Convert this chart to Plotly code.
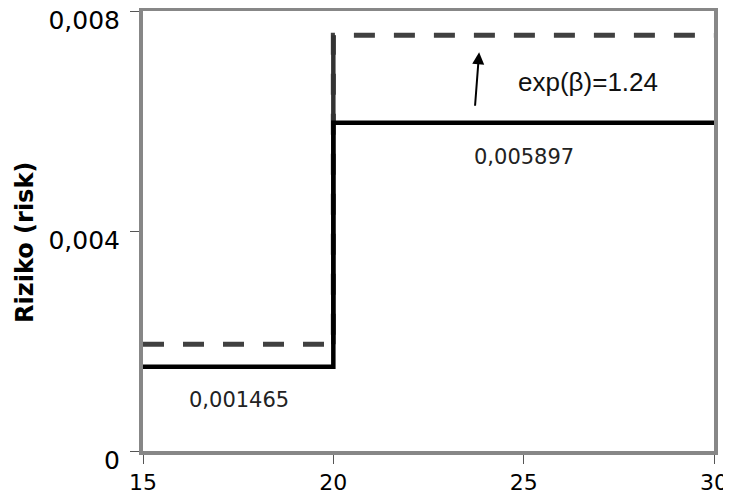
import plotly.graph_objects as go

# Data
x_steps = [15, 20, 30]
risk_base = [0.00153, 0.00597, 0.00597]       # solid step line
risk_exposed = [0.00194, 0.00756, 0.00756]    # dashed step line
label_low = "0,001465"
label_high = "0,005897"
ratio_label = "exp(β)=1.24"
x_ticks = [15, 20, 25, 30]
y_ticks = [0, 0.004, 0.008]
y_tick_text = ["0", "0,004", "0,008"]

fig = go.Figure()
fig.add_trace(go.Scatter(x=x_steps, y=risk_exposed, mode="lines", line_shape="hv",
                         line=dict(color="#404040", width=5, dash="21px,19px"),
                         showlegend=False, hoverinfo="skip"))
# the riser of the dashed step is drawn continuous in the reference
fig.add_trace(go.Scatter(x=[x_steps[1], x_steps[1]], y=[risk_exposed[0], risk_exposed[1]],
                         mode="lines", line=dict(color="#333333", width=4.5),
                         showlegend=False, hoverinfo="skip"))
fig.add_trace(go.Scatter(x=x_steps, y=risk_base, mode="lines", line_shape="hv",
                         line=dict(color="#000000", width=4.5),
                         showlegend=False, hoverinfo="skip"))

fig.add_annotation(x=17.52, y=0.000927, text=label_low, showarrow=False,
                   font=dict(family="DejaVu Sans", size=21, color="#222222"))
fig.add_annotation(x=25.02, y=0.005345, text=label_high, showarrow=False,
                   font=dict(family="DejaVu Sans", size=21, color="#222222"))
fig.add_annotation(x=26.69, y=0.006709, text=ratio_label, showarrow=False,
                   font=dict(family="Liberation Sans", size=26, color="#111111"))
fig.add_annotation(x=23.83, y=0.00725, ax=23.72, ay=0.00625, xref="x", yref="y",
                   axref="x", ayref="y", text="", showarrow=True, arrowhead=2,
                   arrowsize=1.2, arrowwidth=2, arrowcolor="#000000")
fig.add_annotation(xref="paper", yref="paper", x=-0.2067, y=0.475, text="<b>Riziko (risk)</b>",
                   textangle=-90, showarrow=False, xanchor="center", yanchor="middle",
                   font=dict(family="DejaVu Sans", size=24, color="#000000"))

fig.update_xaxes(range=[15, 30], tickvals=x_ticks, showgrid=False, zeroline=False,
                 showline=True, linecolor="#878787", linewidth=4, mirror=True,
                 ticks="outside", ticklen=9, tickwidth=1, tickcolor="#555555",
                 ticklabelstandoff=0, automargin=False, ticklabeloverflow="allow",
                 tickfont=dict(family="DejaVu Sans", size=22, color="#000000"))
fig.update_yaxes(range=[0, 0.008], tickvals=y_ticks, ticktext=y_tick_text, showgrid=False,
                 zeroline=False, showline=True, linecolor="#878787", linewidth=4, mirror=True,
                 ticks="outside", ticklen=9, tickwidth=1, tickcolor="#555555",
                 ticklabelstandoff=5, ticklabelshift=9, automargin=False,
                 ticklabeloverflow="allow",
                 tickfont=dict(family="DejaVu Sans", size=25, color="#000000"))

fig.update_layout(width=723, height=489, margin=dict(l=135, r=17, t=3, b=46),
                  plot_bgcolor="white", paper_bgcolor="white")
fig.write_html("out.html")
